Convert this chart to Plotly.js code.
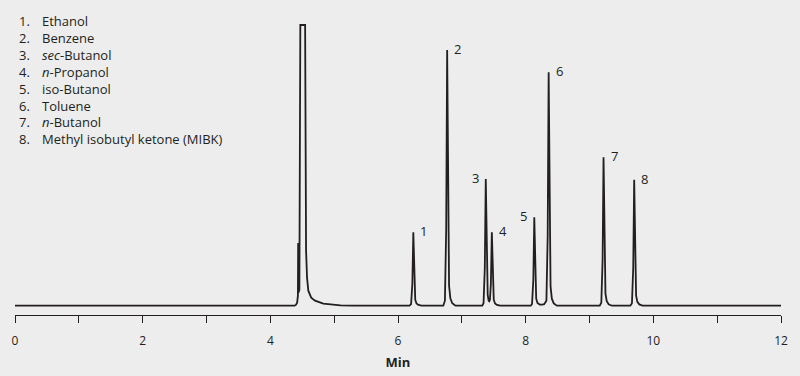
<!DOCTYPE html>
<html>
<head>
<meta charset="utf-8">
<script src="https://cdn.plot.ly/plotly-3.0.1.min.js"></script>
<style>
  html, body { margin: 0; padding: 0; background: #ededed; }
  #chart { width: 800px; height: 376px; }
</style>
</head>
<body>
<div id="chart"></div>
<script>
// ---- Data (time in min, signal in arbitrary units) ----
const traceTime = [
  0, 4.38, 4.40, 4.42, 4.432, 4.436, 4.440, 4.455, 4.47, 4.545, 4.552, 4.56, 4.575, 4.595, 4.64, 4.70, 4.83, 5.0, 5.1, 5.3,
  6.18, 6.205, 6.225, 6.24, 6.255, 6.27, 6.29, 6.32, 6.37,
  6.71, 6.735, 6.755, 6.77, 6.785, 6.80, 6.82, 6.85, 6.90,
  7.32, 7.34, 7.36, 7.375, 7.39, 7.405, 7.42, 7.43, 7.44, 7.455, 7.47, 7.485, 7.50, 7.52, 7.55, 7.60,
  8.08, 8.10, 8.12, 8.135, 8.15, 8.165, 8.185, 8.22, 8.26, 8.29, 8.325, 8.345, 8.36, 8.375, 8.39, 8.41, 8.44, 8.49,
  9.16, 9.185, 9.205, 9.22, 9.235, 9.25, 9.27, 9.30, 9.35,
  9.64, 9.665, 9.685, 9.70, 9.715, 9.73, 9.75, 9.78, 9.83,
  12
];
const traceSignal = [
  0, 0, 0.8, 3, 10, 62.7, 13, 16, 280.7, 280.7, 120, 55, 28, 15, 8, 5, 2, 0.8, 0.4, 0,
  0, 1.5, 22, 73.4, 29, 6, 2.2, 0.8, 0,
  0, 5, 77, 255.7, 102, 20, 7.5, 2.5, 0,
  0, 2.5, 38, 126.7, 50, 11, 5, 4.5, 6, 22, 73.4, 29, 6, 2.2, 0.8, 0,
  0, 1.8, 26, 88.4, 35, 7, 2.7, 1.2, 1, 1.5, 5, 70, 233.4, 93, 19, 7, 2.3, 0,
  0, 3, 45, 148.4, 59, 12, 4.5, 1.5, 0,
  0, 2.5, 38, 126, 50, 10, 3.8, 1.3, 0,
  0
];

const peakLabels  = ['1', '2', '3', '4', '5', '6', '7', '8'];
const peakTimes   = [6.24, 6.77, 7.375, 7.47, 8.135, 8.36, 9.22, 9.70];
const peakHeights = [73.4, 255.7, 126.7, 73.4, 88.4, 233.4, 148.4, 126];

const compoundNumbers = ['1.', '2.', '3.', '4.', '5.', '6.', '7.', '8.'];
const compoundNames = [
  'Ethanol', 'Benzene', '<i>sec</i>-Butanol', '<i>n</i>-Propanol',
  'iso-Butanol', 'Toluene', '<i>n</i>-Butanol', 'Methyl isobutyl ketone (MIBK)'
];

const tickValues = [0, 1, 2, 3, 4, 5, 6, 7, 8, 9, 10, 11, 12];
const tickLabels = ['0', '', '2', '', '4', '', '6', '', '8', '', '10', '', '12'];

// ---- Styling ----
const INK = '#231f20';
const BG = '#ededed';
const FONT = 'Open Sans, Noto Sans, sans-serif';
const labelOnLeft = { '3': true, '5': true };

const trace = {
  x: traceTime,
  y: traceSignal,
  type: 'scatter',
  mode: 'lines',
  line: { color: INK, width: 1.8 },
  hoverinfo: 'skip'
};

const annotations = [];
peakLabels.forEach((lab, i) => {
  const left = !!labelOnLeft[lab];
  annotations.push({
    x: peakTimes[i], y: peakHeights[i], xref: 'x', yref: 'y',
    text: lab, showarrow: false,
    xanchor: left ? 'right' : 'left', yanchor: 'middle',
    xshift: left ? -5 : 5, yshift: 1,
    font: { family: FONT, size: 13, color: INK }
  });
});

annotations.push({
  xref: 'paper', yref: 'paper', x: 0.002, y: 1.033,
  xanchor: 'left', yanchor: 'top', align: 'left', showarrow: false,
  text: compoundNumbers.join('<br>'),
  font: { family: FONT, size: 13, color: INK }
});
annotations.push({
  xref: 'paper', yref: 'paper', x: 0.032, y: 1.033,
  xanchor: 'left', yanchor: 'top', align: 'left', showarrow: false,
  text: compoundNames.join('<br>'),
  font: { family: FONT, size: 13, color: INK }
});

const layout = {
  width: 800, height: 376,
  paper_bgcolor: BG, plot_bgcolor: BG,
  margin: { l: 15, r: 19, t: 20, b: 61, pad: 0 },
  showlegend: false,
  xaxis: {
    range: [0, 12],
    showgrid: false, zeroline: false,
    showline: true, linecolor: INK, linewidth: 1,
    ticks: 'outside', ticklen: 7, tickwidth: 1, tickcolor: INK,
    tickmode: 'array', tickvals: tickValues, ticktext: tickLabels,
    tickfont: { family: FONT, size: 12, color: INK },
    ticklabelstandoff: 8,
    title: { text: '<b>Min</b>', font: { family: FONT, size: 13, color: INK }, standoff: 9 },
    fixedrange: true
  },
  yaxis: {
    range: [-9.3, 285.7],
    visible: false, showgrid: false, zeroline: false,
    fixedrange: true
  },
  annotations: annotations
};

Plotly.newPlot('chart', [trace], layout, { staticPlot: true, displayModeBar: false });
</script>
</body>
</html>
